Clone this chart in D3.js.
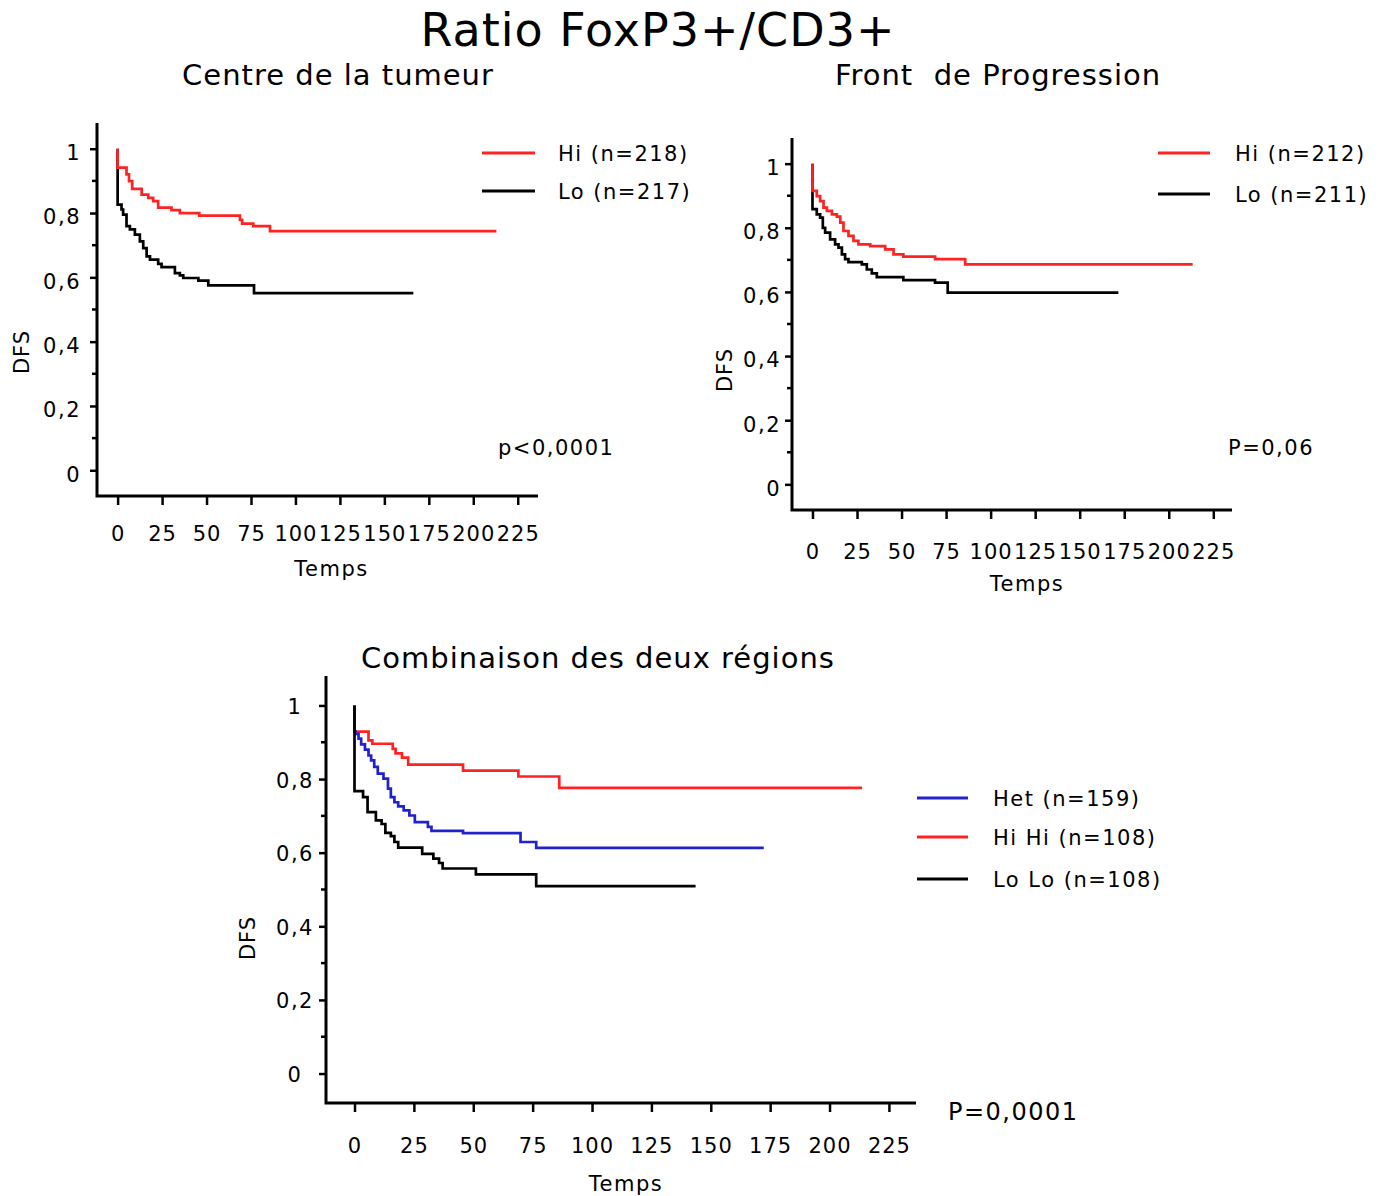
<!DOCTYPE html>
<html><head><meta charset="utf-8">
<script src="https://cdn.jsdelivr.net/npm/d3@7"></script>
<style>
body{margin:0;background:#fff;}
text{font-family:"DejaVu Sans",Verdana,sans-serif;fill:#000;}
</style></head>
<body><svg id="c" width="1384" height="1196"></svg>
<script>
// ---- data ----
const xTicks = [0,25,50,75,100,125,150,175,200,225];
const yTicksMajor = [0,0.2,0.4,0.6,0.8,1];
const yTicksMinor = [0.1,0.3,0.5,0.7,0.9];

const centreHiTime = [0,0,5.0,6.4,8.2,13.5,17.2,20,22.8,30.3,35,45.9,68.8,70,76.3,85.7,213];
const centreHiSurv = [1,.941,.920,.899,.875,.857,.847,.837,.817,.809,.800,.792,.779,.767,.759,.744,.744];
const centreLoTime = [0,0,2.2,3.1,5,6.9,9.7,12.5,14.4,16.3,18.2,22.8,24.7,32.2,35,36.9,45.4,51,76.7,166.3];
const centreLoSurv = [1,.826,.811,.795,.759,.749,.733,.712,.691,.665,.655,.642,.632,.613,.606,.598,.590,.575,.551,.551];

const frontHiTime = [0,0,2.4,4.3,6.2,8.1,10.9,13.7,15.6,17.4,20.2,23,25.8,32.4,40.8,45.5,51,68.8,85.7,213.4];
const frontHiSurv = [1,.915,.899,.883,.863,.853,.842,.835,.816,.790,.775,.759,.748,.743,.733,.717,.710,.702,.686,.686];
const frontLoTime = [0,0,2.4,4.3,5.8,7.1,9.9,12.7,14.6,16.5,18.3,20.2,27.7,30.5,33.3,36.1,51,68.8,75.9,171.7];
const frontLoSurv = [1,.858,.842,.832,.800,.785,.764,.748,.738,.717,.702,.693,.686,.670,.658,.646,.637,.629,.598,.598];

const combHiHiTime = [0,0,5.9,7.5,16.1,17.3,20,22.6,45.7,69,86.2,213.7];
const combHiHiSurv = [1,.929,.905,.896,.882,.870,.858,.839,.823,.807,.776,.776];
const combHetTime = [0,0,0.5,1.7,2.8,4.4,5.9,7,8.3,9.8,12.2,14.1,15.3,16.8,18.4,20.7,23.1,25.4,30.9,32.4,45.7,69.9,76.5,172.3];
const combHetSurv = [1,.929,.923,.91,.894,.88,.864,.851,.833,.815,.801,.774,.751,.737,.726,.715,.701,.683,.670,.659,.653,.629,.613,.613];
const combLoLoTime = [0,0,3.6,5.5,9,11.4,13,15.3,16.8,18.4,28.5,33.2,35.6,37.1,51.1,76.5,143.6];
const combLoLoSurv = [1,.767,.751,.710,.688,.678,.654,.645,.629,.614,.597,.584,.572,.557,.541,.509,.509];

const mainTitle = "Ratio FoxP3+/CD3+";
const panelTitles = ["Centre de la tumeur","Front  de Progression","Combinaison des deux régions"];
const legend1 = ["Hi (n=218)","Lo (n=217)"];
const legend2 = ["Hi (n=212)","Lo (n=211)"];
const legend3 = ["Het (n=159)","Hi Hi (n=108)","Lo Lo (n=108)"];
const pValues = ["p<0,0001","P=0,06","P=0,0001"];

const RED="#ff2222", BLACK="#000", BLUE="#2222cc";
const zip=(t,s)=>t.map((d,i)=>[d,s[i]]);

const svg=d3.select("#c");
const fmt=d=>d===0?"0":d===1?"1":String(d).replace(".",",");

function panel(o){
  const x=d3.scaleLinear().domain(o.xd).range([o.x0,o.x1]);
  const y=d3.scaleLinear().domain([-0.08,1.08]).range([o.y1,o.y0]);
  const g=svg.append("g");
  // y ticks
  const ya=d3.axisLeft(y).tickValues(yTicksMajor).tickSize(7).tickPadding(o.yPad).tickFormat(fmt);
  const yg=g.append("g").attr("transform",`translate(${o.x0},0)`).call(ya);
  yg.select(".domain").remove();
  yg.selectAll(".tick line").attr("stroke","#000").attr("stroke-width",2.5);
  yg.selectAll("text").style("font-size","21px").style("letter-spacing","1.5px").attr("fill","#000")
    .attr("dy",o.ydy);
  if(o.center){yg.selectAll("text").attr("text-anchor","middle").attr("x",o.centerX-o.x0);}
  g.append("g").selectAll("line").data(yTicksMinor).join("line")
    .attr("x1",o.x0-5).attr("x2",o.x0).attr("y1",d=>y(d)).attr("y2",d=>y(d))
    .attr("stroke","#000").attr("stroke-width",2.5);
  // x axis
  const xa=d3.axisBottom(x).tickValues(xTicks).tickSize(9).tickPadding(o.xPad).tickFormat(d=>String(d));
  const xg=g.append("g").attr("transform",`translate(0,${o.y1})`).call(xa);
  xg.select(".domain").remove();
  xg.selectAll(".tick line").attr("stroke","#000").attr("stroke-width",2.5);
  xg.selectAll("text").style("font-size","21px").style("letter-spacing",o.xls).attr("fill","#000");
  // axis frame (L)
  g.append("path").attr("d",`M${o.x0},${o.y0}V${o.y1}H${o.x1}`).attr("fill","none")
    .attr("stroke","#000").attr("stroke-width",3);
  // curves
  const line=d3.line().x(d=>x(d[0])).y(d=>y(d[1])).curve(d3.curveStepAfter);
  o.series.forEach(s=>{
    g.append("path").datum(zip(s.t,s.s)).attr("d",line).attr("fill","none")
      .attr("stroke",s.c).attr("stroke-width",2.7);
  });
  // labels
  g.append("text").attr("x",(o.x0+o.x1)/2+o.tempsDx).attr("y",o.y1+o.tempsDy).attr("text-anchor","middle")
    .style("font-size","21px").style("letter-spacing","1.5px").text("Temps");
  g.append("text").attr("transform",`translate(${o.dfsX},${o.dfsY}) rotate(-90)`).attr("text-anchor","middle")
    .style("font-size","21px").style("letter-spacing","1px").text("DFS");
  // legend
  o.legend.forEach((l,i)=>{
    g.append("line").attr("x1",o.lx).attr("x2",o.lx+o.lw).attr("y1",o.ly[i]).attr("y2",o.ly[i])
      .attr("stroke",l.c).attr("stroke-width",3);
    g.append("text").attr("x",o.tx).attr("y",o.ly[i]+7.5).style("font-size","21px")
      .style("letter-spacing","1.5px").text(l.t);
  });
  g.append("text").attr("x",o.px).attr("y",o.py).style("font-size",o.pfs).style("letter-spacing","1.5px").text(o.p);
}

svg.append("text").attr("x",658).attr("y",46).attr("text-anchor","middle")
  .style("font-size","46px").style("letter-spacing","1px").text(mainTitle);
svg.append("text").attr("x",338).attr("y",85).attr("text-anchor","middle")
  .style("font-size","29px").style("letter-spacing","1px").text(panelTitles[0]);
svg.append("text").attr("x",998).attr("y",85).attr("text-anchor","middle").attr("xml:space","preserve")
  .style("white-space","pre").style("font-size","29px").style("letter-spacing","1px").text(panelTitles[1]);
svg.append("text").attr("x",598).attr("y",668).attr("text-anchor","middle")
  .style("font-size","29px").style("letter-spacing","1px").text(panelTitles[2]);

panel({x0:97,x1:538,y0:123,y1:496,xd:[-11.6,236.4],yPad:9,ydy:"0.52em",xPad:21,xls:"1px",
  tempsDx:14,tempsDy:80,dfsX:29,dfsY:352,
  series:[{t:centreLoTime,s:centreLoSurv,c:BLACK},{t:centreHiTime,s:centreHiSurv,c:RED}],
  legend:[{t:legend1[0],c:RED},{t:legend1[1],c:BLACK}],lx:482,lw:53,ly:[153,191],tx:558,
  p:pValues[0],px:498,py:455,pfs:"21px"});

panel({x0:792,x1:1232,y0:138,y1:510,xd:[-11.5,235.5],yPad:4,ydy:"0.52em",xPad:25,xls:"1px",
  tempsDx:15,tempsDy:81,dfsX:732,dfsY:370,
  series:[{t:frontLoTime,s:frontLoSurv,c:BLACK},{t:frontHiTime,s:frontHiSurv,c:RED}],
  legend:[{t:legend2[0],c:RED},{t:legend2[1],c:BLACK}],lx:1158,lw:52,ly:[153,194],tx:1235,
  p:pValues[1],px:1228,py:455,pfs:"21px"});

panel({x0:326,x1:916,y0:676,y1:1103,xd:[-12,236.4],yPad:14,ydy:"0.38em",xPad:26,xls:"1px",center:true,centerX:295,
  tempsDx:5,tempsDy:88,dfsX:255,dfsY:938,
  series:[{t:combHiHiTime,s:combHiHiSurv,c:RED},{t:combHetTime,s:combHetSurv,c:BLUE},{t:combLoLoTime,s:combLoLoSurv,c:BLACK}],
  legend:[{t:legend3[0],c:BLUE},{t:legend3[1],c:RED},{t:legend3[2],c:BLACK}],lx:917,lw:51,ly:[798,837,879],tx:993,
  p:pValues[2],px:948,py:1120,pfs:"24px"});
</script></body></html>
